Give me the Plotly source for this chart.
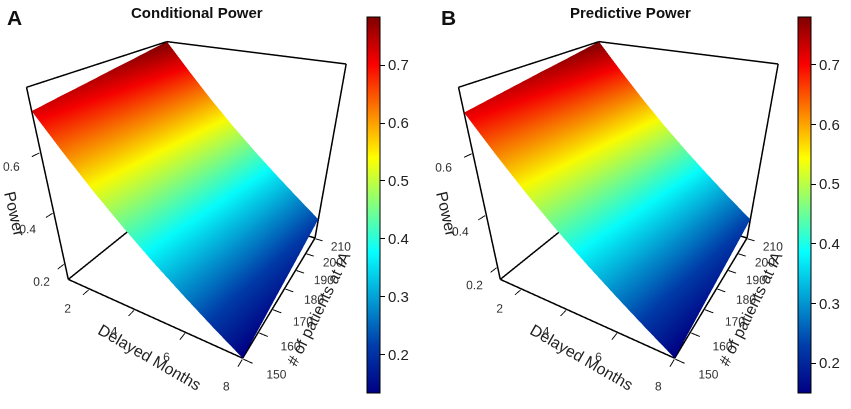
import plotly.graph_objects as go

# axes of both panels
delay_months = [1, 2, 3, 4, 5, 6, 7, 8]
patients_at_ia = [150, 160, 170, 180, 190, 200, 210]

# power values, one row per number of patients at IA, one column per delayed month
conditional_power = [
    [0.720, 0.618, 0.522, 0.434, 0.352, 0.276, 0.203, 0.134],
    [0.731, 0.630, 0.535, 0.448, 0.366, 0.290, 0.217, 0.148],
    [0.741, 0.642, 0.548, 0.461, 0.380, 0.305, 0.232, 0.163],
    [0.752, 0.654, 0.561, 0.475, 0.395, 0.319, 0.247, 0.177],
    [0.762, 0.666, 0.574, 0.489, 0.409, 0.333, 0.261, 0.191],
    [0.773, 0.678, 0.587, 0.502, 0.423, 0.348, 0.276, 0.206],
    [0.783, 0.690, 0.600, 0.516, 0.437, 0.362, 0.290, 0.220],
]
predictive_power = [
    [0.715, 0.616, 0.523, 0.438, 0.360, 0.287, 0.217, 0.150],
    [0.726, 0.628, 0.536, 0.452, 0.374, 0.301, 0.231, 0.164],
    [0.737, 0.640, 0.549, 0.465, 0.388, 0.315, 0.245, 0.178],
    [0.748, 0.653, 0.563, 0.479, 0.402, 0.329, 0.259, 0.192],
    [0.758, 0.665, 0.576, 0.493, 0.415, 0.342, 0.272, 0.205],
    [0.769, 0.677, 0.589, 0.506, 0.429, 0.356, 0.286, 0.219],
    [0.780, 0.689, 0.602, 0.520, 0.443, 0.370, 0.300, 0.233],
]

delay_ticks = [2, 4, 6, 8]
patient_ticks = [150, 160, 170, 180, 190, 200, 210]
power_ticks = [0.2, 0.4, 0.6]
colorbar_ticks = [0.2, 0.3, 0.4, 0.5, 0.6, 0.7]

FONT = "Liberation Sans, Arial, sans-serif"
jet = [[0, "rgb(0,0,131)"], [0.125, "rgb(0,60,170)"], [0.375, "rgb(5,255,255)"],
       [0.625, "rgb(255,255,0)"], [0.875, "rgb(250,0,0)"], [1, "rgb(128,0,0)"]]

# camera looking from the (late delay, few patients) corner, from above
eye = dict(x=0.9394, y=-1.6270, z=0.9994)
center = dict(x=0.0504, y=-0.0873, z=-0.1552)

# back edges of the box, as in a persp() plot (corner index 0 = low end, 1 = high end)
box_edges = [((0, 0, 0), (1, 0, 0)), ((1, 0, 0), (1, 1, 0)), ((1, 1, 0), (0, 1, 0)),
             ((0, 1, 0), (0, 0, 0)), ((0, 0, 0), (0, 0, 1)), ((0, 1, 0), (0, 1, 1)),
             ((1, 1, 0), (1, 1, 1)), ((0, 0, 1), (0, 1, 1)), ((0, 1, 1), (1, 1, 1))]


def box_trace(xr, yr, zr, scene):
    bx, by, bz = [], [], []
    for a, b in box_edges:
        for c in (a, b):
            bx.append(xr[c[0]])
            by.append(yr[c[1]])
            bz.append(zr[c[2]])
        bx.append(None)
        by.append(None)
        bz.append(None)
    return go.Scatter3d(x=bx, y=by, z=bz, mode="lines", line=dict(color="black", width=3),
                        hoverinfo="skip", showlegend=False, scene=scene)


def padded(lo, hi):
    # a hair of room so the box lines on the range limits are not clipped
    p = (hi - lo) * 0.004
    return [lo - p, hi + p]


def axis(rng, ticks):
    return dict(title=dict(text=""), range=padded(*rng), tickvals=ticks, ticks="outside",
                ticklen=7, tickwidth=2, tickcolor="black", tickangle=0,
                tickfont=dict(family=FONT, size=12, color="#333"),
                showbackground=False, showgrid=False, zeroline=False, showline=False,
                showspikes=False)


def scene(domain_x, zr):
    return dict(domain=dict(x=domain_x, y=[0.0342, 0.912]),
                xaxis=axis([delay_months[0], delay_months[-1]], delay_ticks),
                yaxis=axis([patients_at_ia[0], patients_at_ia[-1]], patient_ticks),
                zaxis=axis(zr, power_ticks),
                aspectmode="manual", aspectratio=dict(x=1, y=1, z=1),
                camera=dict(eye=eye, center=center, up=dict(x=0, y=0, z=1),
                            projection=dict(type="perspective")))


fig = go.Figure()
panels = [(conditional_power, "scene", [0, 0.4686], 367),
          (predictive_power, "scene2", [0.5076, 0.9763], 798)]
layout_scenes = {}
annotations = []
for z, sc, dom, cbx in panels:
    zmin = min(min(r) for r in z)
    zmax = max(max(r) for r in z)
    fig.add_trace(go.Surface(
        x=delay_months, y=patients_at_ia, z=z, scene=sc,
        colorscale=jet, cmin=zmin, cmax=zmax, showscale=True,
        lighting=dict(ambient=0.95, diffuse=0.08, specular=0, roughness=1, fresnel=0),
        hoverinfo="skip",
        colorbar=dict(x=cbx / 851, xanchor="left", xpad=0, ypad=0,
                      y=1 - 205 / 409, yanchor="middle", len=376 / 409,
                      thickness=13, outlinecolor="black", outlinewidth=1,
                      tickvals=colorbar_ticks, tickformat=".1f", ticks="outside",
                      ticklen=5, tickcolor="black",
                      tickfont=dict(family=FONT, size=15, color="#222"))))
    fig.add_trace(box_trace([delay_months[0], delay_months[-1]],
                            [patients_at_ia[0], patients_at_ia[-1]], [zmin, zmax], sc))
    layout_scenes[sc] = scene(dom, [zmin, zmax])

    # axis titles of the 3D box, laid along the box edges
    off = 0 if sc == "scene" else 432
    for text, x, y, ang in [("Delayed Months", 150, 357, 30),
                            ("# of patients at IA", 318, 309, -64),
                            ("Power", 15, 214, 77)]:
        annotations.append(dict(text=text, x=(x + off) / 851, y=1 - y / 409,
                                xref="paper", yref="paper", showarrow=False,
                                xanchor="center", yanchor="middle", textangle=ang,
                                font=dict(family=FONT, size=16, color="#222")))

for text, x, y, size in [("<b>Conditional Power</b>", 197, 12, 15),
                         ("<b>Predictive Power</b>", 630, 12, 15),
                         ("<b>A</b>", 14, 18, 21), ("<b>B</b>", 448, 18, 21)]:
    annotations.append(dict(text=text, x=x / 851, y=1 - y / 409, xref="paper", yref="paper",
                            showarrow=False, xanchor="center", yanchor="middle",
                            font=dict(family=FONT, size=size, color="#111")))

fig.update_layout(width=851, height=409, margin=dict(l=0, r=0, t=0, b=0),
                  paper_bgcolor="white", plot_bgcolor="white", showlegend=False,
                  annotations=annotations, **layout_scenes)

# the page body has a default 8px margin; drop it so the figure sits at the window corner
fig.write_html("out.html", config={"displayModeBar": False},
               post_script="document.body.style.margin='0px';")
